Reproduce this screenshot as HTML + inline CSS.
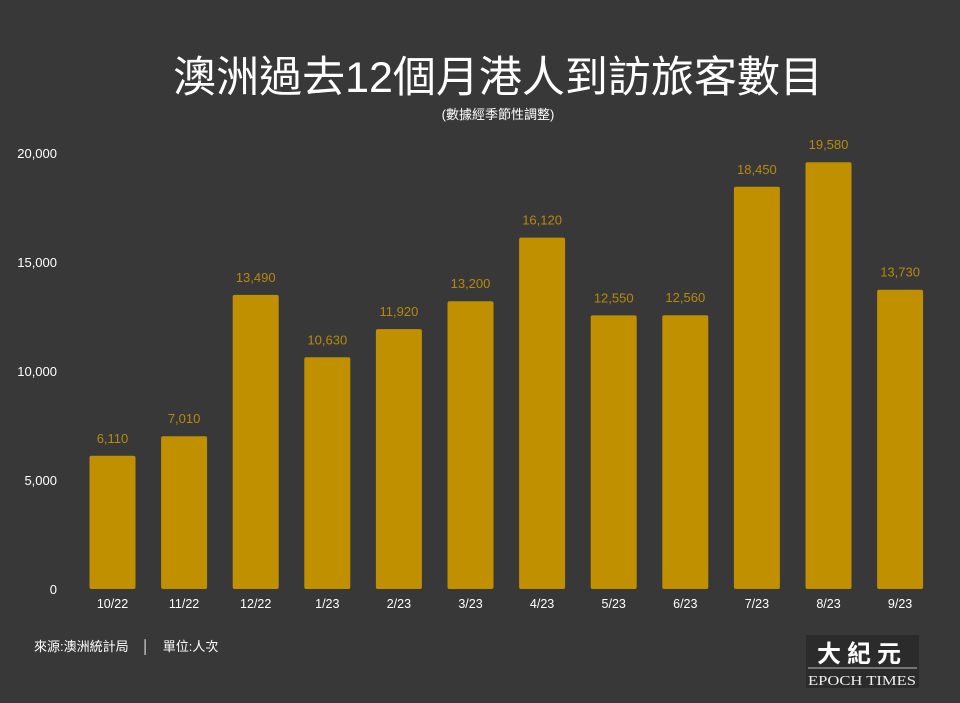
<!DOCTYPE html>
<html><head><meta charset="utf-8"><style>
html,body{margin:0;padding:0;background:#383838;}
svg{display:block}
</style></head><body>
<svg width="960" height="703" xmlns="http://www.w3.org/2000/svg" font-family="'Liberation Sans','Noto Sans CJK TC',sans-serif">
<rect width="960" height="703" fill="#383838"/>
<text x="498" y="92" text-anchor="middle" font-size="43" fill="#ffffff">澳洲過去12個月港人到訪旅客數目</text>
<text x="498" y="119" text-anchor="middle" font-size="13" fill="#ffffff">(數據經季節性調整)</text>
<g font-size="13" fill="#ffffff" text-anchor="end">
<text x="57" y="158">20,000</text>
<text x="57" y="267">15,000</text>
<text x="57" y="376">10,000</text>
<text x="57" y="485">5,000</text>
<text x="57" y="594">0</text>
</g>
<g fill="#c09000">
<rect x="89.5" y="455.8" width="46" height="133.2" rx="2"/>
<rect x="161.1" y="436.2" width="46" height="152.8" rx="2"/>
<rect x="232.7" y="294.9" width="46" height="294.1" rx="2"/>
<rect x="304.3" y="357.3" width="46" height="231.7" rx="2"/>
<rect x="375.9" y="329.1" width="46" height="259.9" rx="2"/>
<rect x="447.5" y="301.2" width="46" height="287.8" rx="2"/>
<rect x="519.1" y="237.6" width="46" height="351.4" rx="2"/>
<rect x="590.7" y="315.4" width="46" height="273.6" rx="2"/>
<rect x="662.3" y="315.2" width="46" height="273.8" rx="2"/>
<rect x="733.9" y="186.8" width="46" height="402.2" rx="2"/>
<rect x="805.5" y="162.2" width="46" height="426.8" rx="2"/>
<rect x="877.1" y="289.7" width="46" height="299.3" rx="2"/>
</g>
<g font-size="13" fill="#b8890c" text-anchor="middle">
<text x="112.5" y="442.8">6,110</text>
<text x="184.1" y="423.2">7,010</text>
<text x="255.7" y="281.9">13,490</text>
<text x="327.3" y="344.3">10,630</text>
<text x="398.9" y="316.1">11,920</text>
<text x="470.5" y="288.2">13,200</text>
<text x="542.1" y="224.6">16,120</text>
<text x="613.7" y="302.4">12,550</text>
<text x="685.3" y="302.2">12,560</text>
<text x="756.9" y="173.8">18,450</text>
<text x="828.5" y="149.2">19,580</text>
<text x="900.1" y="276.7">13,730</text>
</g>
<g font-size="12.5" fill="#ffffff" text-anchor="middle">
<text x="112.5" y="608">10/22</text>
<text x="184.1" y="608">11/22</text>
<text x="255.7" y="608">12/22</text>
<text x="327.3" y="608">1/23</text>
<text x="398.9" y="608">2/23</text>
<text x="470.5" y="608">3/23</text>
<text x="542.1" y="608">4/23</text>
<text x="613.7" y="608">5/23</text>
<text x="685.3" y="608">6/23</text>
<text x="756.9" y="608">7/23</text>
<text x="828.5" y="608">8/23</text>
<text x="900.1" y="608">9/23</text>
</g>
<text x="34" y="651" font-size="13" fill="#ffffff">來源:澳洲統計局　│　單位:人次</text>
<rect x="806" y="635" width="113" height="53" fill="#2b2b2b"/>
<text x="862" y="662" text-anchor="middle" font-size="24" font-weight="bold" fill="#ffffff" letter-spacing="6">大紀元</text>
<line x1="808" y1="668" x2="917" y2="668" stroke="#bbbbbb" stroke-width="1"/>
<text x="862" y="685" text-anchor="middle" font-size="14" fill="#eeeeee" font-family="'Liberation Serif',serif" textLength="108" lengthAdjust="spacingAndGlyphs">EPOCH TIMES</text>
</svg>
</body></html>
